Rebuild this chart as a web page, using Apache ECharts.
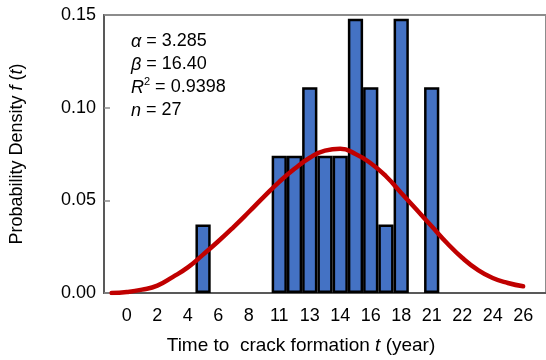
<!DOCTYPE html>
<html>
<head>
<meta charset="utf-8">
<script src="https://cdn.jsdelivr.net/npm/echarts@6/dist/echarts.min.js"></script>
<style>html,body{margin:0;padding:0;background:#fff;}#c{width:546px;height:360px;}</style>
</head>
<body>
<div id="c"></div>
<script>
// Category bins (band index) and their printed tick labels
const binLabels = ['', '0', '', '2', '', '4', '', '6', '', '8', '', '11', '', '13', '', '14', '', '16', '', '18', '', '21', '', '22', '', '24', '', '26', ''];
// Histogram probability density per bin
const density = [null, null, null, null, null, null, 0.037, null, null, null, null, 0.074, 0.074, 0.111, 0.074, 0.074, 0.148, 0.111, 0.037, 0.148, null, 0.111, null, null, null, null, null, null, null];
// Fitted curve f(t), read at each bin centre
const fitted = [0.000, 0.0005, 0.0018, 0.004, 0.0086, 0.0138, 0.0207, 0.0279, 0.0356, 0.0437, 0.052, 0.060, 0.067, 0.073, 0.0768, 0.0778, 0.0750, 0.070, 0.063, 0.054, 0.045, 0.036, 0.027, 0.019, 0.0126, 0.0081, 0.0054, 0.0036, null];
// Y ticks
const yMin = 0, yMax = 0.15, yStep = 0.05;

const FF = '"Liberation Sans", Arial, sans-serif';
const chart = echarts.init(document.getElementById('c'));
chart.setOption({
  animation: false,
  backgroundColor: '#fff',
  grid: { left: 104, top: 15, width: 446, height: 278, show: true, borderColor: '#8c8c8c', borderWidth: 2, backgroundColor: 'transparent' },
  title: {
    left: 131, top: 30, padding: 0,
    text: '{i|α} = 3.285\n{i|β} = 16.40\n{i|R}{s|2} = 0.9398\n{i|n} = 27',
    textStyle: {
      fontFamily: FF, fontSize: 18, fontWeight: 'normal', color: '#000', lineHeight: 23,
      rich: {
        i: { fontStyle: 'italic', fontFamily: FF, fontSize: 18, color: '#000', lineHeight: 23 },
        s: { fontFamily: FF, fontSize: 11, color: '#000', verticalAlign: 'top', lineHeight: 23, padding: [0, 0, 6, 0] }
      }
    }
  },
  graphic: [{
    type: 'text', x: 301, y: 346,
    style: {
      text: 'Time to  crack formation {i|t} (year)',
      font: '19px ' + FF, fill: '#000', textAlign: 'center', textVerticalAlign: 'middle',
      rich: { i: { fontStyle: 'italic', fontSize: 19, fontFamily: FF, fill: '#000' } }
    }
  }],
  xAxis: {
    type: 'category', data: binLabels, boundaryGap: true,
    axisLine: { lineStyle: { color: '#595959', width: 2 } },
    axisTick: { interval: 0, alignWithLabel: false, length: 6, lineStyle: { color: '#595959', width: 1.5 } },
    axisLabel: { interval: 0, fontSize: 18, fontFamily: FF, color: '#000', margin: 14 },
    splitLine: { show: false }
  },
  yAxis: {
    type: 'value', min: yMin, max: yMax, interval: yStep,
    name: 'Probability Density {i|f} ({i|t})', nameLocation: 'middle', nameRotate: 90, nameGap: 78,
    nameTextStyle: { fontSize: 18, fontFamily: FF, color: '#000', rich: { i: { fontStyle: 'italic', fontSize: 18, fontFamily: FF, color: '#000' } } },
    axisLine: { show: true, lineStyle: { color: '#595959', width: 2 } },
    axisTick: { show: true, inside: true, length: 6, lineStyle: { color: '#8c8c8c', width: 1.5 } },
    axisLabel: { fontSize: 18, fontFamily: FF, color: '#000', margin: 8, formatter: v => v.toFixed(2) },
    splitLine: { show: false }
  },
  series: [
    {
      type: 'bar', data: density, barCategoryGap: '0%', barGap: '0%',
      itemStyle: { color: '#4472C4', borderColor: '#000', borderWidth: 2.5 },
      z: 2
    },
    {
      type: 'line', data: fitted, smooth: true, symbol: 'none', connectNulls: false,
      lineStyle: { color: '#C00000', width: 4.5, cap: 'round' },
      z: 3
    }
  ]
});
</script>
</body>
</html>
